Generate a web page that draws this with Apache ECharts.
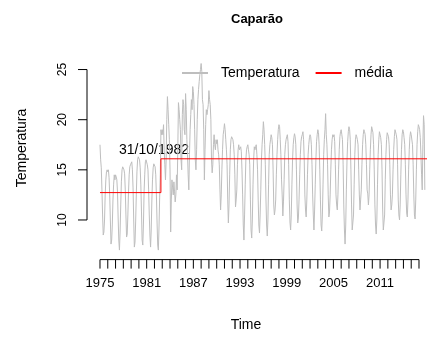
<!DOCTYPE html>
<html><head><meta charset="utf-8">
<script src="https://cdn.jsdelivr.net/npm/echarts@6/dist/echarts.min.js"></script>
<style>html,body{margin:0;padding:0;background:#fff}#c{width:427px;height:338px}</style>
</head><body><div id="c"></div>
<script>
// ---- data ----
const chartTitle = 'Caparão';
const seriesName = 'Temperatura';
const meanName = 'média';
const startYear = 1975; // monthly series, first value = Jan 1975
const temperatura = [
  17.5, 16.0, 15.2, 13.0, 10.5, 8.5, 8.8, 10.0, 12.5, 14.0, 14.8, 15.0, // 1975
  14.8, 15.0, 14.2, 12.5, 10.0, 7.6, 8.0, 9.5, 12.0, 13.5, 14.5, 14.0,  // 1976
  14.5, 14.3, 14.0, 12.8, 10.2, 8.0, 7.0, 8.8, 11.5, 13.8, 15.0, 15.3,  // 1977
  15.3, 15.0, 14.6, 13.0, 10.5, 8.3, 8.6, 10.5, 12.8, 14.5, 15.3, 15.5, // 1978
  15.5, 15.8, 15.0, 13.2, 10.0, 7.3, 7.8, 9.8, 12.5, 14.8, 16.0, 16.3,  // 1979
  16.3, 16.0, 15.2, 13.5, 10.8, 8.0, 7.5, 9.5, 12.8, 14.5, 15.8, 16.0,  // 1980
  16.0, 15.5, 15.0, 13.0, 10.5, 8.5, 7.3, 9.0, 12.0, 14.0, 15.2, 15.6,  // 1981
  15.6, 15.3, 14.5, 12.5, 9.8, 7.5, 7.0, 9.2, 12.2, 14.5, 19.0, 18.5,   // 1982
  19.0, 18.5, 19.5, 17.0, 15.5, 14.0, 16.0, 20.0, 22.3, 21.0, 19.5, 18.0, // 1983
  15.0, 8.8, 12.0, 14.0, 13.2, 12.5, 13.8, 12.8, 11.8, 12.5, 14.5, 13.0,  // 1984
  17.0, 21.7, 21.0, 20.0, 19.0, 16.0, 15.0, 20.5, 22.0, 21.5, 19.0, 18.5, // 1985
  22.6, 21.0, 18.0, 16.5, 14.5, 13.0, 16.5, 19.0, 20.5, 22.0, 21.0, 23.3, // 1986
  22.8, 21.5, 19.0, 16.0, 15.0, 17.0, 20.0, 22.0, 23.0, 23.8, 24.5, 25.0, // 1987
  25.6, 24.8, 22.0, 21.5, 19.0, 14.0, 17.0, 19.5, 21.0, 20.5, 21.0, 21.5, // 1988
  22.9, 22.0, 21.5, 20.0, 16.0, 14.7, 15.5, 17.5, 18.5, 17.5, 17.0, 18.0, // 1989
  17.6, 18.0, 17.0, 16.5, 15.5, 13.0, 11.0, 12.5, 15.0, 17.0, 18.5, 19.0, // 1990
  19.6, 19.0, 18.0, 17.0, 15.5, 12.0, 9.7, 11.5, 14.5, 17.0, 18.0, 18.3,  // 1991
  18.3, 18.0, 17.5, 16.5, 14.5, 11.3, 12.0, 13.0, 15.5, 17.0, 17.5, 17.0, // 1992
  17.0, 17.3, 16.8, 15.0, 12.5, 9.5, 8.0, 10.5, 13.5, 16.0, 17.0, 17.3,  // 1993
  17.5, 17.0, 16.5, 15.5, 12.0, 9.0, 8.2, 10.0, 13.5, 16.0, 17.3, 17.0,  // 1994
  17.3, 17.5, 16.5, 15.0, 12.0, 9.5, 8.7, 10.5, 13.0, 16.0, 17.5, 18.5,  // 1995
  19.8, 19.0, 17.5, 15.5, 12.0, 9.5, 8.4, 10.0, 13.5, 16.5, 17.5, 18.0,  // 1996
  18.5, 18.2, 17.5, 15.0, 11.5, 10.5, 11.0, 12.0, 14.5, 16.5, 18.0, 19.0, // 1997
  19.5, 19.3, 18.0, 16.5, 14.0, 12.5, 10.4, 11.8, 14.0, 16.5, 17.5, 18.0, // 1998
  18.3, 18.5, 17.8, 15.5, 12.0, 9.8, 9.0, 10.5, 13.5, 16.0, 17.5, 18.2,  // 1999
  18.6, 18.3, 17.5, 15.0, 11.5, 9.7, 10.2, 12.0, 14.5, 16.5, 17.8, 18.3, // 2000
  18.5, 18.8, 18.0, 16.0, 12.5, 11.0, 10.3, 12.0, 14.5, 16.5, 17.5, 18.2, // 2001
  18.5, 18.3, 17.5, 15.5, 12.5, 10.5, 9.0, 11.0, 13.5, 16.0, 17.8, 18.5, // 2002
  19.0, 18.7, 17.5, 15.0, 12.0, 9.5, 8.9, 10.5, 13.5, 16.5, 18.0, 19.0,  // 2003
  20.6, 18.5, 17.5, 15.5, 12.5, 10.3, 10.8, 12.5, 15.0, 17.0, 18.0, 18.5, // 2004
  18.3, 18.5, 17.8, 15.5, 12.5, 11.5, 11.0, 12.5, 15.0, 17.0, 18.3, 18.8, // 2005
  19.0, 18.5, 18.0, 15.5, 11.5, 9.0, 7.6, 9.5, 13.0, 16.0, 17.8, 18.8,   // 2006
  19.3, 19.0, 18.0, 15.0, 11.5, 9.0, 8.9, 10.5, 13.5, 16.5, 18.0, 18.5,  // 2007
  18.3, 18.0, 17.5, 15.0, 12.5, 11.0, 12.0, 13.0, 15.5, 17.5, 18.5, 19.0, // 2008
  18.8, 18.5, 17.5, 15.5, 13.0, 12.6, 11.5, 12.5, 15.0, 17.0, 18.5, 19.3, // 2009
  19.3, 18.7, 17.5, 15.0, 11.5, 9.5, 8.6, 10.0, 13.5, 16.5, 18.0, 18.8,  // 2010
  18.8, 18.2, 17.5, 15.0, 11.0, 9.0, 8.9, 10.5, 14.0, 16.5, 18.0, 18.7,  // 2011
  18.8, 18.3, 17.5, 15.5, 12.5, 11.0, 11.5, 12.5, 15.0, 17.0, 18.3, 19.0, // 2012
  18.9, 18.5, 18.0, 15.5, 12.0, 10.5, 10.0, 11.5, 14.5, 17.0, 18.5, 19.0, // 2013
  18.8, 18.2, 17.5, 15.5, 12.5, 10.7, 10.3, 12.0, 15.0, 17.0, 18.3, 18.8, // 2014
  18.5, 18.5, 17.5, 15.5, 12.5, 10.5, 10.1, 12.0, 15.0, 17.5, 18.8, 19.5, // 2015
  19.3, 19.0, 18.2, 16.5, 14.5, 13.0, 17.5, 20.4, 19.5, 13.0              // 2016 (to Oct)
];
const meanBreaks = [1975, 1982.83, 2017.2];   // start, change point (31/10/1982), end
const meanValues = [12.73, 16.1];
const changeLabel = '31/10/1982';
const xTicks = [1975, 1976, 1977, 1978, 1979, 1980, 1981, 1982, 1983, 1984, 1985, 1986, 1987, 1988,
  1989, 1990, 1991, 1992, 1993, 1994, 1995, 1996, 1997, 1998, 1999, 2000, 2001, 2002,
  2003, 2004, 2005, 2006, 2007, 2008, 2009, 2010, 2011, 2012, 2013, 2014, 2015, 2016];
const xLabels = [1975, 1981, 1987, 1993, 1999, 2005, 2011];
const yTicks = [10, 15, 20, 25];
const xName = 'Time';
const yName = 'Temperatura';

// ---- build ----
const X_MIN = 1973.33, X_MAX = 2017.03, Y_MIN = 6.05, Y_MAX = 26.35;
const FONT = '"Liberation Sans", Arial, Helvetica, sans-serif';
const tempData = temperatura.map((v, i) => [startYear + i / 12, v]);
const meanData = [];
meanValues.forEach((v, i) => { meanData.push([meanBreaks[i], v]); meanData.push([meanBreaks[i + 1], v]); });

const chart = echarts.init(document.getElementById('c'), null, { renderer: 'canvas' });
chart.setOption({
  animation: false,
  backgroundColor: '#fff',
  grid: { left: 87, top: 56, right: 0, height: 203.6 },
  xAxis: { type: 'value', min: X_MIN, max: X_MAX, show: false },
  yAxis: { type: 'value', min: Y_MIN, max: Y_MAX, show: false },
  legend: {
    left: 181, top: 66, padding: 0, itemWidth: 26, itemHeight: 14, itemGap: 15,
    data: [seriesName, meanName],
    itemStyle: { opacity: 0 },
    textStyle: { fontSize: 14, fontFamily: FONT, color: '#000', padding: [0, 0, 0, 8] }
  },
  graphic: [
    { type: 'text', x: 257, y: 19, style: { text: chartTitle, align: 'center', verticalAlign: 'middle', font: 'bold 13px ' + FONT, fill: '#000' } },
    { type: 'text', x: 246, y: 325, style: { text: xName, align: 'center', verticalAlign: 'middle', font: '14px ' + FONT, fill: '#000' } },
    { type: 'text', x: 22, y: 148, rotation: Math.PI / 2, style: { text: yName, align: 'center', verticalAlign: 'middle', font: '14px ' + FONT, fill: '#000' } }
  ],
  series: [
    { name: seriesName, type: 'line', data: tempData, symbol: 'none', lineStyle: { color: '#bebebe', width: 1 }, itemStyle: { color: '#bebebe' }, silent: true },
    { name: meanName, type: 'line', data: meanData, symbol: 'none', lineStyle: { color: '#ff0000', width: 1 }, itemStyle: { color: '#ff0000' }, silent: true },
    {
      name: 'xaxis', type: 'custom', coordinateSystem: 'cartesian2d', clip: false, silent: true,
      data: xTicks.map(t => [t, Y_MIN]),
      renderItem: function (params, api) {
        const t = api.value(0);
        const p = api.coord([t, Y_MIN]);
        const ch = [{ type: 'line', shape: { x1: p[0], y1: p[1], x2: p[0], y2: p[1] + 9 }, style: { stroke: '#000', lineWidth: 1 } }];
        if (params.dataIndex === 0) {
          const a = api.coord([xTicks[0], Y_MIN]), b = api.coord([xTicks[xTicks.length - 1], Y_MIN]);
          ch.push({ type: 'line', shape: { x1: a[0], y1: a[1], x2: b[0], y2: b[1] }, style: { stroke: '#000', lineWidth: 1 } });
        }
        if (xLabels.indexOf(t) >= 0) {
          ch.push({ type: 'text', x: p[0], y: p[1] + 24, style: { text: String(t), align: 'center', verticalAlign: 'middle', font: '13px ' + FONT, fill: '#000' } });
        }
        return { type: 'group', children: ch };
      }
    },
    {
      name: 'yaxis', type: 'custom', coordinateSystem: 'cartesian2d', clip: false, silent: true,
      data: yTicks.map(v => [X_MIN, v]),
      renderItem: function (params, api) {
        const v = api.value(1);
        const p = api.coord([X_MIN, v]);
        const ch = [{ type: 'line', shape: { x1: p[0] - 9, y1: p[1], x2: p[0], y2: p[1] }, style: { stroke: '#000', lineWidth: 1 } }];
        if (params.dataIndex === 0) {
          const a = api.coord([X_MIN, yTicks[0]]), b = api.coord([X_MIN, yTicks[yTicks.length - 1]]);
          ch.push({ type: 'line', shape: { x1: a[0], y1: a[1], x2: b[0], y2: b[1] }, style: { stroke: '#000', lineWidth: 1 } });
        }
        ch.push({ type: 'text', x: p[0] - 24, y: p[1], rotation: Math.PI / 2, style: { text: String(v), align: 'center', verticalAlign: 'middle', font: '12px ' + FONT, fill: '#000' } });
        return { type: 'group', children: ch };
      }
    },
    {
      name: 'annot', type: 'custom', coordinateSystem: 'cartesian2d', clip: false, silent: true,
      data: [[1981.94, 16.98]],
      renderItem: function (params, api) {
        const p = api.coord([api.value(0), api.value(1)]);
        return { type: 'text', x: p[0], y: p[1], style: { text: changeLabel, align: 'center', verticalAlign: 'middle', font: '14px ' + FONT, fill: '#000' } };
      }
    }
  ]
});
</script></body></html>
